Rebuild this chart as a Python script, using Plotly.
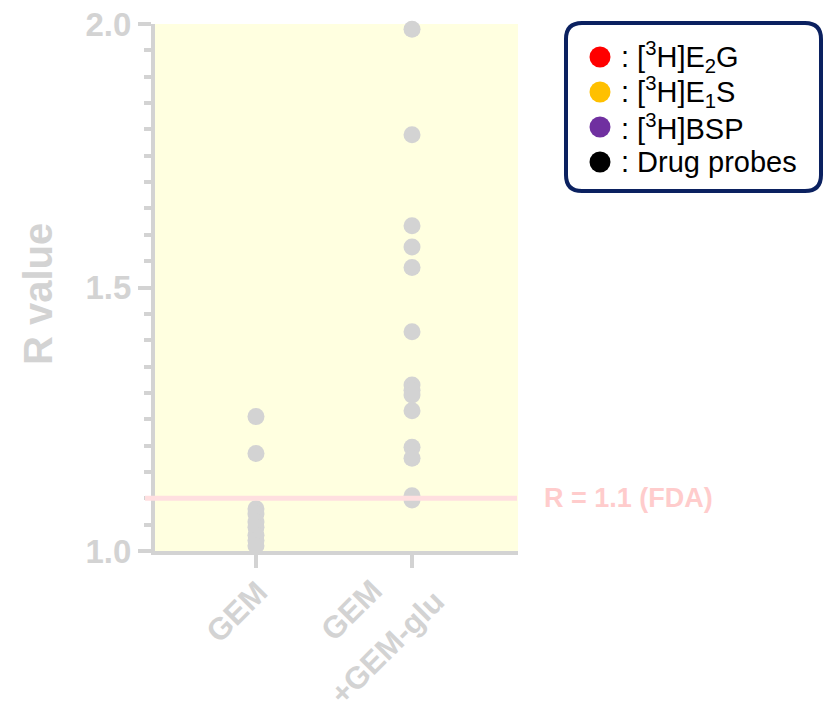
import plotly.graph_objects as go

# ---------------- data ----------------
x_labels = ["GEM", "GEM<br>+GEM-glu"]
gem_values = [1.255, 1.185, 1.08, 1.07, 1.055, 1.045, 1.03, 1.02, 1.01]
gem_glu_values = [1.99, 1.79, 1.617, 1.577, 1.538, 1.416, 1.315, 1.305, 1.296,
                  1.266, 1.197, 1.176, 1.105, 1.097]
fda_value = 1.1
fda_label = "R = 1.1 (FDA)"
y_title = "R value"
legend_labels = [": [<sup>3</sup>H]E<sub>2</sub>G",
                 ": [<sup>3</sup>H]E<sub>1</sub>S",
                 ": [<sup>3</sup>H]BSP",
                 ": Drug probes"]
legend_colors = ["#ff0000", "#ffc000", "#7030a0", "#000000"]

# ---------------- layout constants ----------------
W, H = 823, 704
ML, MR, MT, MB = 155, 305, 24, 153
PW, PH = W - ML - MR, H - MT - MB
GRAY = "#d3d3d3"
FONT = "Liberation Sans, Arial, sans-serif"


def px(x):
    return (x - ML) / PW


def py(y):
    return (H - MB - y) / PH


fig = go.Figure()

series = [gem_values, gem_glu_values]
for i, vals in enumerate(series):
    fig.add_trace(go.Scatter(
        x=[x_labels[i]] * len(vals), y=vals, mode="markers",
        marker=dict(size=17, color=GRAY, line=dict(width=0)),
        cliponaxis=False, showlegend=False, hoverinfo="y"))

# x tick labels (rotated, centered lines)
line_offsets = [[(-19, 60)], [(-61, 59), (-25, 96)]]
annotations = []
for i, lab in enumerate(x_labels):
    for j, line in enumerate(lab.split("<br>")):
        dx, dy = line_offsets[i][j]
        annotations.append(dict(
            x=i, xref="x", y=0, yref="paper", text=line, showarrow=False,
            textangle=-45, xanchor="center", yanchor="middle",
            xshift=dx, yshift=-dy,
            font=dict(family=FONT, size=31, color=GRAY, weight="bold")))

# y axis title
annotations.append(dict(
    x=px(38), y=py(294), xref="paper", yref="paper", text=y_title,
    showarrow=False, textangle=-90, xanchor="center", yanchor="middle",
    font=dict(family=FONT, size=40, color=GRAY, weight="bold")))

# FDA label
annotations.append(dict(
    x=px(542), y=fda_value, xref="paper", yref="y", text=fda_label,
    showarrow=False, xanchor="left", yanchor="middle",
    font=dict(family=FONT, size=27, color="#ffcccc", weight="bold")))

shapes = [dict(type="line", xref="paper", yref="y", x0=px(145), x1=px(517),
               y0=fda_value, y1=fda_value, layer="above",
               line=dict(color="#ffdfe0", width=5))]

# custom legend box (rounded rectangle)
bx0, bx1, by0, by1, r = 566, 821, 23, 191, 16


def P(x, y):
    return f"{px(x):.5f},{py(y):.5f}"


path = (f"M {P(bx0 + r, by0)} L {P(bx1 - r, by0)} Q {P(bx1, by0)} {P(bx1, by0 + r)} "
        f"L {P(bx1, by1 - r)} Q {P(bx1, by1)} {P(bx1 - r, by1)} "
        f"L {P(bx0 + r, by1)} Q {P(bx0, by1)} {P(bx0, by1 - r)} "
        f"L {P(bx0, by0 + r)} Q {P(bx0, by0)} {P(bx0 + r, by0)} Z")
shapes.append(dict(type="path", xref="paper", yref="paper", path=path,
                   fillcolor="white", line=dict(color="#0b2160", width=4),
                   layer="above"))

row_y0, row_dy, mk_x, mk_d, txt_x = 57, 35, 600, 21, 619
for k, (lab, col) in enumerate(zip(legend_labels, legend_colors)):
    cy = row_y0 + k * row_dy
    shapes.append(dict(type="circle", xref="paper", yref="paper",
                       x0=px(mk_x - mk_d / 2), x1=px(mk_x + mk_d / 2),
                       y0=py(cy + mk_d / 2), y1=py(cy - mk_d / 2),
                       fillcolor=col, line=dict(width=0), layer="above"))
    annotations.append(dict(
        x=px(txt_x), y=py(cy), xref="paper", yref="paper", text=lab,
        showarrow=False, xanchor="left", yanchor="middle",
        font=dict(family=FONT, size=29, color="black")))

fig.update_layout(
    width=W, height=H, margin=dict(l=ML, r=MR, t=MT, b=MB, autoexpand=False),
    paper_bgcolor="white", plot_bgcolor="#ffffe0",
    font=dict(family=FONT, color=GRAY),
    showlegend=False,
    annotations=annotations, shapes=shapes,
    xaxis=dict(type="category", categoryorder="array", categoryarray=x_labels,
               range=[-0.647, 1.679], showgrid=False, zeroline=False,
               showline=True, linecolor=GRAY, linewidth=4,
               ticks="outside", ticklen=13, tickwidth=4, tickcolor=GRAY,
               showticklabels=False),
    yaxis=dict(range=[1.0, 2.0], tick0=1.0, dtick=0.5, showgrid=False,
               zeroline=False, showline=True, linecolor=GRAY, linewidth=4,
               ticks="outside", ticklen=13, tickwidth=4, tickcolor=GRAY,
               tickformat=".1f",
               tickfont=dict(family=FONT, size=33, color=GRAY, weight="bold"),
               minor=dict(dtick=0.05, tick0=1.0, ticks="outside", ticklen=7,
                          tickwidth=4, tickcolor=GRAY, showgrid=False)),
)

fig.write_html("out.html")
